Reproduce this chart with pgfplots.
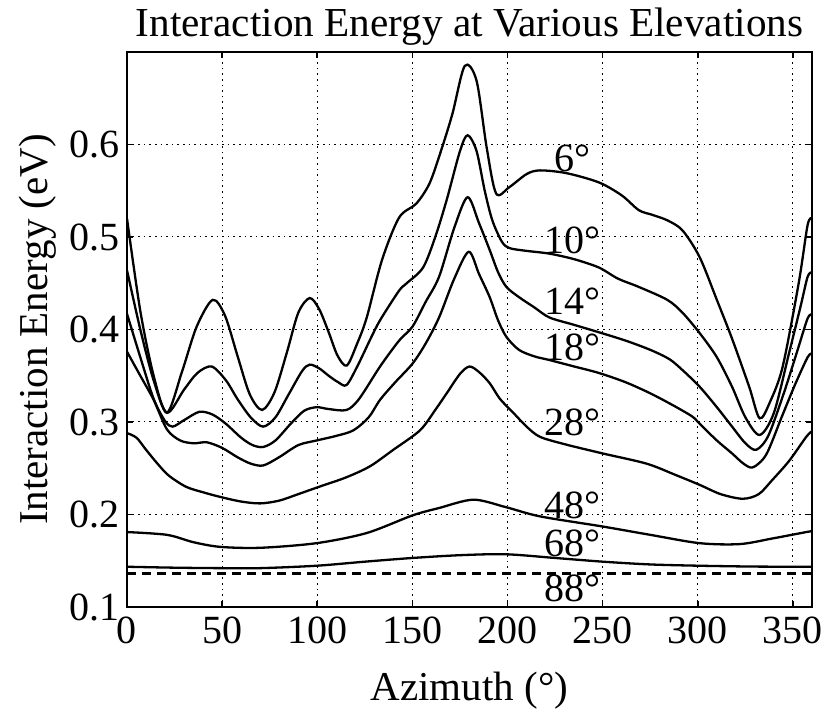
\documentclass[border=0pt]{standalone}
\usepackage{pgfplots}
\pgfplotsset{compat=1.18}
\usepackage{fontspec}
\setmainfont{Liberation Serif}
\begin{document}
\begin{tikzpicture}
\begin{axis}[
  scale only axis, width=342.5pt, height=277.5pt,
  xmin=0, xmax=360, ymin=0.1, ymax=0.7,
  xtick={0,50,100,150,200,250,300,350},
  ytick={0.1,0.2,0.3,0.4,0.5,0.6},
  /pgf/number format/assume math mode=true,
  yticklabel style={/pgf/number format/fixed, /pgf/number format/precision=1},
  xticklabel style={yshift=-1.5pt},
  tick label style={font=\fontsize{20}{24}\selectfont},
  label style={font=\fontsize{20.5}{24}\selectfont},
  xlabel style={yshift=-7pt},
  title style={font=\fontsize{20.6}{24}\selectfont, at={(0.5,1)}, anchor=base, yshift=1.5pt},
  title={Interaction Energy at Various Elevations},
  xlabel={Azimuth (°)},
  ylabel={Interaction Energy (eV)},
  grid=major,
  major grid style={black, line width=0.5pt, dash pattern=on 0.8pt off 2pt},
  axis line style={line width=1pt},
  tick style={black, line width=0.8pt},
  major tick length=3pt,
  tick pos=both, tick align=inside,
  cycle list={{black}},
]
% 6 deg
\addplot[black, line width=1.15pt, smooth, tension=0.5] coordinates {
(0,0.520)(7,0.420)(14,0.350)(21,0.310)(29,0.355)(36.6,0.403)(45,0.432)(51.5,0.415)(58,0.372)(64.5,0.330)(71,0.313)
(77.5,0.332)(84,0.375)(90,0.418)(96,0.434)(101,0.422)(106,0.397)(110.6,0.372)(115.5,0.361)
(121,0.385)(126,0.413)(134,0.475)(143,0.521)(152,0.536)(159,0.558)(165,0.593)(171,0.633)(177.5,0.685)
(183.7,0.669)(189,0.597)(194,0.547)(201,0.554)(210,0.568)(217,0.572)(231,0.569)(248,0.559)
(260,0.545)(269,0.529)(276,0.524)(284,0.518)(292,0.507)(301,0.478)(310,0.432)(318,0.390)(327,0.338)
(332.5,0.304)(338,0.322)(344.6,0.360)(353,0.450)(357.7,0.513)(360,0.520)};
% 10 deg
\addplot[black, line width=1.15pt, smooth, tension=0.5] coordinates {
(0,0.464)(7,0.400)(14,0.345)(21,0.310)(30,0.335)(37,0.353)(44.5,0.360)(52,0.345)(58,0.325)(65,0.305)(71.5,0.295)
(78,0.305)(85,0.330)(92,0.355)(96,0.362)(101,0.358)(106,0.350)(111,0.343)(115.4,0.340)(121,0.360)(128,0.390)
(133,0.410)(143,0.442)(147,0.450)(155.6,0.467)(162,0.500)(168,0.540)(175,0.593)(179,0.610)(183.7,0.593)
(188,0.550)(192,0.518)(197,0.495)(201,0.488)(210,0.485)(222,0.482)(235,0.476)(248,0.467)(258,0.455)
(269,0.446)(284,0.432)(292,0.418)(301,0.396)(310,0.370)(318,0.338)(325,0.305)(332.5,0.286)(340,0.310)
(348,0.375)(354,0.425)(357.7,0.457)(360,0.462)};
% 14 deg
\addplot[black, line width=1.15pt, smooth, tension=0.5] coordinates {
(0,0.417)(7,0.370)(14,0.325)(20,0.301)(24,0.295)(30,0.302)(38,0.311)(45,0.308)(52,0.298)(60,0.283)(66,0.275)
(71.6,0.273)(78,0.280)(86,0.298)(93,0.312)(99.6,0.316)(106,0.314)(115.4,0.313)(122,0.325)(133,0.360)
(143,0.388)(150,0.403)(157,0.430)(164,0.457)(172,0.510)(179,0.543)(185,0.515)(190.6,0.486)(195,0.462)
(199.4,0.446)(206,0.435)(214,0.424)(222,0.413)(235,0.405)(248,0.397)(262,0.388)(275,0.378)(285,0.368)
(292,0.356)(301,0.338)(310,0.316)(318,0.295)(325,0.277)(330.7,0.270)(337,0.285)(345,0.330)(352,0.375)
(357.7,0.412)(360,0.416)};
% 18 deg
\addplot[black, line width=1.15pt, smooth, tension=0.5] coordinates {
(0,0.376)(7,0.350)(14,0.324)(21,0.292)(28,0.280)(35,0.277)(42,0.278)(50,0.272)(58,0.262)(65,0.255)(71.6,0.253)
(80,0.262)(90,0.275)(99.6,0.280)(110,0.285)(119,0.291)(127,0.305)(133,0.324)(141,0.343)(150,0.363)(157,0.385)
(164,0.413)(172,0.455)(179.6,0.484)(185,0.460)(190.6,0.435)(195,0.410)(199.4,0.392)(206,0.378)(214,0.371)
(222,0.367)(235,0.360)(248,0.353)(262,0.343)(275,0.331)(287,0.318)(297,0.306)(301,0.298)(310,0.280)
(318,0.266)(324,0.255)(329,0.251)(336,0.265)(344,0.305)(351,0.340)(357.7,0.370)(360,0.374)};
% 28 deg
\addplot[black, line width=1.15pt, smooth, tension=0.5] coordinates {
(0,0.288)(5,0.283)(10,0.270)(16,0.255)(22,0.242)(31,0.230)(40,0.224)(49,0.219)(60,0.214)(70,0.212)(80,0.215)
(90,0.222)(101,0.230)(115,0.240)(127.6,0.252)(140,0.270)(154,0.291)(162,0.313)(168,0.331)(175,0.352)
(180,0.360)(185,0.354)(190.6,0.342)(196,0.325)(203,0.310)(210,0.295)(217,0.284)(230,0.276)(250,0.266)
(273,0.255)(288,0.243)(301,0.232)(312,0.222)(323.6,0.217)(332,0.222)(339,0.237)(348,0.258)(357,0.284)(360,0.290)};
% 48 deg
\addplot[black, line width=1.15pt, smooth, tension=0.5] coordinates {
(0,0.181)(21,0.178)(35,0.170)(49,0.165)(70,0.164)(99.6,0.169)(126,0.180)(150,0.199)(164,0.207)(182,0.216)
(199,0.208)(217,0.198)(250,0.187)(275,0.178)(301,0.169)(322,0.168)(339,0.174)(357,0.181)(360,0.182)};
% 68 deg
\addplot[black, line width=1.15pt, smooth, tension=0.5] coordinates {
(0,0.1435)(25,0.1425)(49,0.142)(70,0.142)(99.6,0.1446)(125,0.149)(150,0.153)(175,0.156)(199,0.157)
(225,0.153)(250,0.149)(275,0.146)(301,0.1446)(330,0.1437)(360,0.1435)};
% 88 deg
\addplot[black, line width=1.6pt, dash pattern=on 4.5pt off 3pt] coordinates {(0,0.136)(360,0.136)};
\node[font=\fontsize{20}{24}\selectfont] at (axis cs:234,0.585) {6°};
\node[font=\fontsize{20}{24}\selectfont] at (axis cs:234,0.496) {10°};
\node[font=\fontsize{20}{24}\selectfont] at (axis cs:234,0.431) {14°};
\node[font=\fontsize{20}{24}\selectfont] at (axis cs:234,0.381) {18°};
\node[font=\fontsize{20}{24}\selectfont] at (axis cs:234,0.300) {28°};
\node[font=\fontsize{20}{24}\selectfont] at (axis cs:234,0.210) {48°};
\node[font=\fontsize{20}{24}\selectfont] at (axis cs:234,0.169) {68°};
\node[font=\fontsize{20}{24}\selectfont] at (axis cs:234,0.120) {88°};
\end{axis}
\pgfresetboundingbox
\path ([shift={(-63.5pt,-54.5pt)}]current axis.south west) rectangle ([shift={(9pt,26pt)}]current axis.north east);
\end{tikzpicture}
\end{document}
